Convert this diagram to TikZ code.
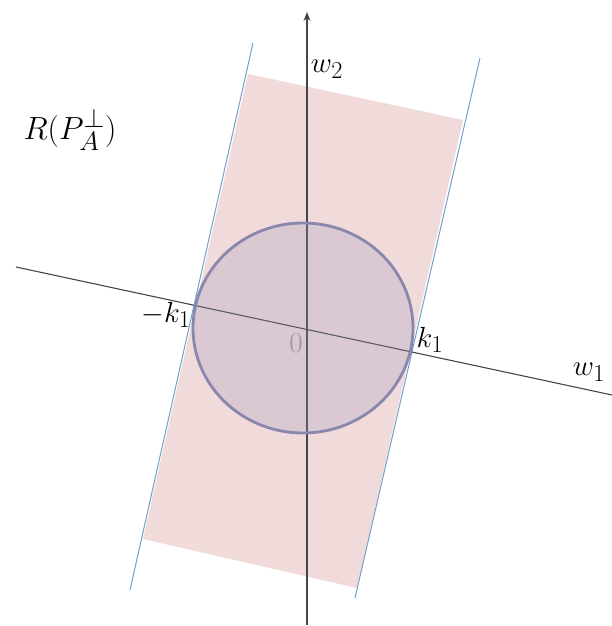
\documentclass[tikz,border=0pt]{standalone}
\usepackage{amsmath, amssymb}
\usepackage{tikz}
\usetikzlibrary{arrows.meta}
\definecolor{bandpink}{RGB}{241,218,218}
\definecolor{ballfill}{RGB}{153,154,190}
\definecolor{balledge}{RGB}{138,135,172}
\definecolor{edgeblue}{RGB}{112,160,200}
\definecolor{axisgray}{RGB}{70,70,70}
\tikzset{
  axisline/.style={draw=axisgray, line width=1.1pt},
  bandedge/.style={draw=edgeblue, line width=1pt},
  lbl/.style={inner sep=0pt, font=\Huge, scale=1.17, transform shape},
}
\begin{document}
\begin{tikzpicture}[x=1pt, y=-1pt, >=Stealth]
  \useasboundingbox (0,0) rectangle (612,626);
  % band between the two hyperplanes
  \fill[bandpink] (248,74) -- (463,120) -- (357,588) -- (143,539) -- cycle;
  \coordinate (lt) at (253,43);  \coordinate (lb) at (130,590);
  \coordinate (rt) at (480,58);  \coordinate (rb) at (355,598);
  \draw[bandedge] (lt) -- (lb);
  \draw[bandedge] (rt) -- (rb);
  % axes
  \coordinate (w1a) at (16,267);  \coordinate (w1b) at (612,395);
  \coordinate (w2a) at (307,625); \coordinate (w2b) at (307,12);
  \draw[axisline] (w1a) -- (w1b);
  \draw[axisline, -{Stealth[length=9pt, width=7pt]}] (w2a) -- (w2b);
  % ball, see-through over the axes
  \fill[ballfill, fill opacity=0.25] (303,328) ellipse [x radius=110, y radius=105];
  \draw[balledge, line width=2.8pt] (303,328) ellipse [x radius=110, y radius=105];
  % labels
  \node[lbl] (w2) at (327,69) {$w_2$};
  \node[lbl] (w1) at (589,372) {$w_1$};
  \node[lbl] (k1) at (430,340) {$k_1$};
  \node[lbl] (mk1) at (166,315) {$-k_1$};
  \node[lbl, text=gray!80] (zero) at (296,343) {$0$};
  \node[lbl, scale=1.1] (rng) at (70,130) {$R(P_A^{\perp})$};
\end{tikzpicture}
\end{document}
